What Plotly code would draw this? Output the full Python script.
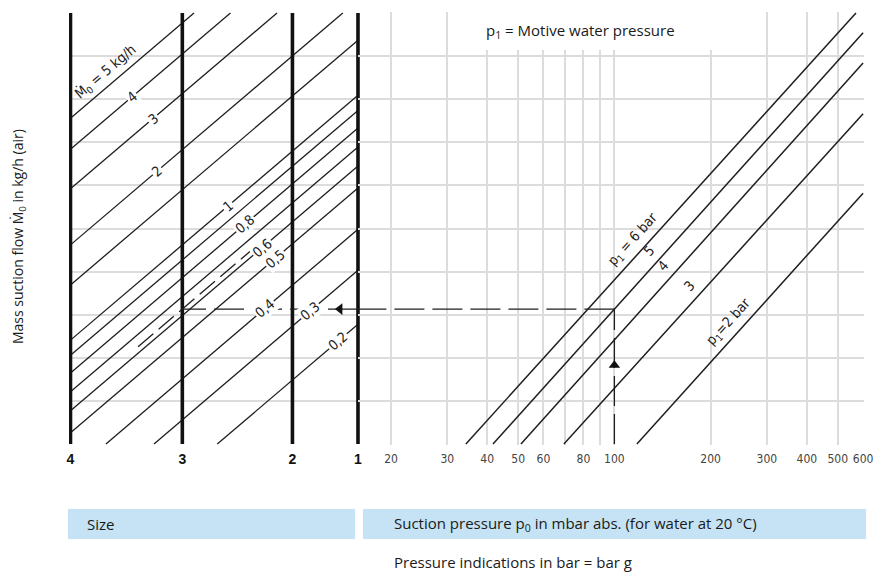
import numpy as np
import plotly.graph_objects as go

# ---------------- data ----------------
# Size scale (left part)
size_labels = ["4", "3", "2", "1"]
size_pos = [0.0, 3.89, 7.72, 10.0]

# Mass suction flow lines M0 (kg/h): value, label, level at the size-4 edge (grid units)
m0_values = [5, 4, 3, 2, 1.5, 1, 0.9, 0.8, 0.7, 0.6, 0.5, 0.4, 0.3, 0.2]
m0_labels = ["Ṁ<sub>0</sub> = 5 kg/h", "4", "3", "2", "", "1", "", "0,8", "", "0,6", "0,5", "0,4", "0,3", "0,2"]
m0_level_at_size4 = [7.56, 6.84, 5.92, 4.62, 3.69, 2.41, 2.06, 1.65, 1.21, 0.77, 0.26, -0.70, -1.65, -2.90]
m0_slope = 0.568  # grid units per size-scale unit

# Motive water pressure lines p1 (bar): start/end points (suction pressure mbar, grid level)
p1_values = [6, 5, 4, 3, 2]
p1_labels = ["p<sub>1</sub> = 6 bar", "5", "4", "3", "p<sub>1</sub>=2 bar"]
p1_start_p0 = [34.3, 41.7, 51.0, 69.5, 117.6]
p1_start_level = [0, 0, 0, 0, 0]
p1_end_p0 = [570, 600, 600, 600, 600]
p1_end_level = [10.0, 9.54, 8.84, 7.66, 5.82]

# Suction pressure axis (mbar abs.)
p0_ticks = [20, 30, 40, 50, 60, 80, 100, 200, 300, 400, 500, 600]
p0_minor_grid = [70, 90]

# Reading example
ex_p0 = 100
ex_p1 = 5
ex_size = "3"

# ---------------- layout geometry ----------------
W, H = 892, 572
ML, MR, MT, MB = 69, 28, 12, 127
PW = W - ML - MR
PH = H - MT - MB


def px_x(px):
    return (px - ML) / PW


def px_y(py):
    return (H - MB - py) / PH


x1_domain = [0, px_x(360)]
x1_range = [-0.052, 10.07]
x2_domain = [px_x(358), 1]
x2_range = [1.1978, 2.7810]
y_range = [-0.0232, 10.0232]
Y_TOP = 10.0

LINE_COL = "#1e1e1e"
CHART_FONT = "Liberation Sans Narrow, DejaVu Sans Condensed, Arial Narrow, sans-serif"
TEXT_FONT = "Open Sans, Noto Sans, sans-serif"

fig = go.Figure()

# M0 lines in the size region
label_x = [1.50, 2.14, 2.87, 3.01, None, 5.48, None, 6.07, None, 6.66, 7.11, 6.77, 8.33, 9.30]
annotations = []
for val, lab, y0, lx in zip(m0_values, m0_labels, m0_level_at_size4, label_x):
    xs = max(size_pos[0], (0 - y0) / m0_slope)
    xe = min(size_pos[-1], (Y_TOP - y0) / m0_slope)
    fig.add_trace(go.Scatter(x=[xs, xe], y=[y0 + m0_slope * xs, y0 + m0_slope * xe],
                             mode="lines", line=dict(color=LINE_COL, width=1.3),
                             xaxis="x", yaxis="y", hoverinfo="skip", showlegend=False))
    if lab and lx is not None:
        ly = y0 + m0_slope * lx
        first = lab.startswith("Ṁ")
        ann = dict(
            x=lx, y=ly, xref="x", yref="y", text=lab, showarrow=False,
            textangle=-40.4, font=dict(family=CHART_FONT, size=14, color="#222"),
            borderpad=1, xshift=-8 if first else 0, yshift=10 if first else 0)
        if not first:
            ann["bgcolor"] = "white"
        annotations.append(ann)

# size bars
for pos in size_pos:
    fig.add_trace(go.Scatter(x=[pos, pos], y=[0, Y_TOP], mode="lines",
                             line=dict(color="#111", width=3.6),
                             xaxis="x", yaxis="y", hoverinfo="skip", showlegend=False))

# p1 lines in the suction pressure region
p1_label_level = [4.55, 4.27, 3.92, 3.46, 2.62]
for lab, xs, ys, xe, ye, ll in zip(p1_labels, p1_start_p0, p1_start_level, p1_end_p0, p1_end_level, p1_label_level):
    fig.add_trace(go.Scatter(x=[xs, xe], y=[ys, ye], mode="lines",
                             line=dict(color=LINE_COL, width=1.5),
                             xaxis="x2", yaxis="y", hoverinfo="skip", showlegend=False))
    lx = 10 ** (np.log10(xs) + (ll - ys) / (ye - ys) * (np.log10(xe) - np.log10(xs)))
    annotations.append(dict(
        x=np.log10(lx), y=ll, xref="x2", yref="y", text=lab, showarrow=False,
        textangle=-47.9, font=dict(family=CHART_FONT, size=14, color="#222"),
        xshift=-10, yshift=9))

# reading example
i5 = p1_values.index(ex_p1)
ex_level = p1_start_level[i5] + (np.log10(ex_p0) - np.log10(p1_start_p0[i5])) / \
    (np.log10(p1_end_p0[i5]) - np.log10(p1_start_p0[i5])) * (p1_end_level[i5] - p1_start_level[i5])
ex_x = size_pos[size_labels.index(ex_size)]
dash = "30px,8px"
fig.add_trace(go.Scatter(x=[ex_p0, ex_p0], y=[0, ex_level], mode="lines",
                         line=dict(color=LINE_COL, width=1.3, dash=dash),
                         xaxis="x2", yaxis="y", hoverinfo="skip", showlegend=False))
fig.add_trace(go.Scatter(x=[ex_p0, 10 ** x2_range[0]], y=[ex_level, ex_level], mode="lines",
                         line=dict(color=LINE_COL, width=1.3, dash=dash),
                         xaxis="x2", yaxis="y", hoverinfo="skip", showlegend=False))
fig.add_trace(go.Scatter(x=[size_pos[-1], ex_x], y=[ex_level, ex_level], mode="lines",
                         line=dict(color=LINE_COL, width=1.3, dash=dash),
                         xaxis="x", yaxis="y", hoverinfo="skip", showlegend=False))
ex_m0_y0 = ex_level - m0_slope * ex_x
dx0, dx1 = 2.35, 6.24
fig.add_trace(go.Scatter(x=[dx0, dx1], y=[ex_m0_y0 + m0_slope * dx0, ex_m0_y0 + m0_slope * dx1],
                         mode="lines", line=dict(color=LINE_COL, width=1.3, dash="20px,7px"),
                         xaxis="x", yaxis="y", hoverinfo="skip", showlegend=False))
fig.add_trace(go.Scatter(x=[ex_p0], y=[1.83], mode="markers",
                         marker=dict(symbol="triangle-up", size=10, color="#111"),
                         xaxis="x2", yaxis="y", hoverinfo="skip", showlegend=False))
fig.add_trace(go.Scatter(x=[9.37], y=[ex_level], mode="markers",
                         marker=dict(symbol="triangle-left", size=10, color="#111"),
                         xaxis="x", yaxis="y", hoverinfo="skip", showlegend=False))

# text box at top and caption boxes at bottom
shapes = [
    dict(type="rect", xref="paper", yref="paper", x0=px_x(473), x1=px_x(757), y0=px_y(50), y1=px_y(10),
         fillcolor="white", line=dict(width=0), layer="above"),
    dict(type="rect", xref="paper", yref="paper", x0=px_x(68), x1=px_x(355), y0=px_y(539), y1=px_y(509),
         fillcolor="#c5e3f4", line=dict(width=0)),
    dict(type="rect", xref="paper", yref="paper", x0=px_x(363), x1=px_x(866), y0=px_y(539), y1=px_y(509),
         fillcolor="#c5e3f4", line=dict(width=0)),
]
annotations += [
    dict(x=px_x(484), y=px_y(31), xref="paper", yref="paper", xanchor="left", yanchor="middle",
         text="p<sub>1</sub> = Motive water pressure", showarrow=False,
         font=dict(family=TEXT_FONT, size=15, color="#1a1a1a")),
    dict(x=px_x(18), y=px_y(237), xref="paper", yref="paper", xanchor="center", yanchor="middle",
         text="Mass suction flow Ṁ<sub>0</sub> in kg/h (air)", textangle=-90, showarrow=False,
         font=dict(family=TEXT_FONT, size=14, color="#1a1a1a")),
    dict(x=px_x(85), y=px_y(524), xref="paper", yref="paper", xanchor="left", yanchor="middle",
         text="Size", showarrow=False, font=dict(family=TEXT_FONT, size=15, color="#1a1a1a")),
    dict(x=px_x(392), y=px_y(524), xref="paper", yref="paper", xanchor="left", yanchor="middle",
         text="Suction pressure p<sub>0</sub> in mbar abs. (for water at 20 °C)", showarrow=False,
         font=dict(family=TEXT_FONT, size=15, color="#1a1a1a")),
    dict(x=px_x(392), y=px_y(562), xref="paper", yref="paper", xanchor="left", yanchor="middle",
         text="Pressure indications in bar = bar g", showarrow=False,
         font=dict(family=TEXT_FONT, size=15, color="#1a1a1a")),
]

GRID = "#dcdcdc"
fig.update_layout(
    width=W, height=H, margin=dict(l=ML, r=MR, t=MT, b=MB),
    paper_bgcolor="white", plot_bgcolor="rgba(0,0,0,0)",
    xaxis=dict(domain=x1_domain, range=x1_range, anchor="y", showgrid=False, zeroline=False,
               showline=False, tickmode="array", tickvals=size_pos,
               ticktext=["<b>%s</b>" % s for s in size_labels],
               tickfont=dict(family="Liberation Sans, Arial, sans-serif", size=14, color="#111"),
               ticks="", ticklabelstandoff=4, fixedrange=True),
    xaxis2=dict(domain=x2_domain, type="log", range=x2_range, anchor="y", showgrid=True,
                gridcolor=GRID, gridwidth=1.5, zeroline=False, showline=False,
                tickmode="array", tickvals=p0_ticks, ticktext=[str(v) for v in p0_ticks],
                minor=dict(tickmode="array", tickvals=p0_minor_grid, showgrid=True,
                           gridcolor=GRID, gridwidth=1.5, ticks=""),
                tickfont=dict(family=CHART_FONT, size=12, color="#444"), ticks="",
                ticklabelstandoff=5, fixedrange=True),
    yaxis=dict(domain=[0, 1], range=y_range, anchor="x", showgrid=True, gridcolor=GRID, gridwidth=1.5,
               zeroline=False, showline=False, showticklabels=False, tick0=0, dtick=1, ticks="",
               fixedrange=True),
    shapes=shapes, annotations=annotations, showlegend=False,
)

fig.write_html("out.html")
